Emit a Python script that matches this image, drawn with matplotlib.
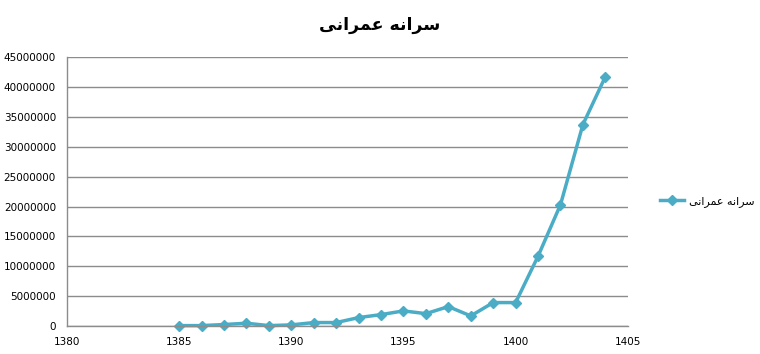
import matplotlib
matplotlib.use("Agg")
import matplotlib.pyplot as plt

# Series name "سرانه عمرانی" written in Arabic presentation forms (matplotlib does no shaping),
# stored in visual (left-to-right) order
series_name = "\ufeb3\ufeae\ufe8d\ufee7\ufeea \ufecb\ufee4\ufeae\ufe8d\ufee7\ufef0"[::-1]

years = [1385, 1386, 1387, 1388, 1389, 1390, 1391, 1392, 1393, 1394,
         1395, 1396, 1397, 1398, 1399, 1400, 1401, 1402, 1403, 1404]
values = [100000, 100000, 280000, 500000, 100000, 220000, 610000, 610000, 1440000, 1940000,
          2560000, 2100000, 3280000, 1720000, 3950000, 3950000, 11700000, 20300000, 33700000, 41700000]

x_ticks = [1380, 1385, 1390, 1395, 1400, 1405]
y_ticks = list(range(0, 45000001, 5000000))

line_color = "#4BACC6"
grid_color = "#8C8C8C"

fig = plt.figure(figsize=(7.6, 3.54), dpi=100)
ax = fig.add_axes([0.0882, 0.0785, 0.7378, 0.7605])

ax.plot(years, values, color=line_color, linewidth=2.5, marker="D", markersize=5.5,
        markeredgecolor=line_color, label=series_name, clip_on=False)

ax.set_xlim(1380, 1405)
ax.set_ylim(0, 45000000)
ax.set_xticks(x_ticks)
ax.set_yticks(y_ticks)
ax.set_yticklabels([str(v) for v in y_ticks])
ax.tick_params(length=0, labelsize=7.5, colors="black")
ax.tick_params(axis="x", pad=8)
ax.tick_params(axis="y", pad=8)

ax.grid(axis="y", color=grid_color, linewidth=1)
ax.set_axisbelow(True)
for side in ["top", "right"]:
    ax.spines[side].set_visible(False)
for side in ["left", "bottom"]:
    ax.spines[side].set_color(grid_color)
    ax.spines[side].set_linewidth(1)

fig.text(0.5, 0.93, series_name, ha="center", va="center",
         fontsize=12.5, fontweight="bold", family="DejaVu Sans")

fig.legend(loc="center left", bbox_to_anchor=(0.855, 0.43), frameon=False,
           fontsize=8, handlelength=2.2, handletextpad=0.4)

fig.savefig("out.png", dpi=100)
